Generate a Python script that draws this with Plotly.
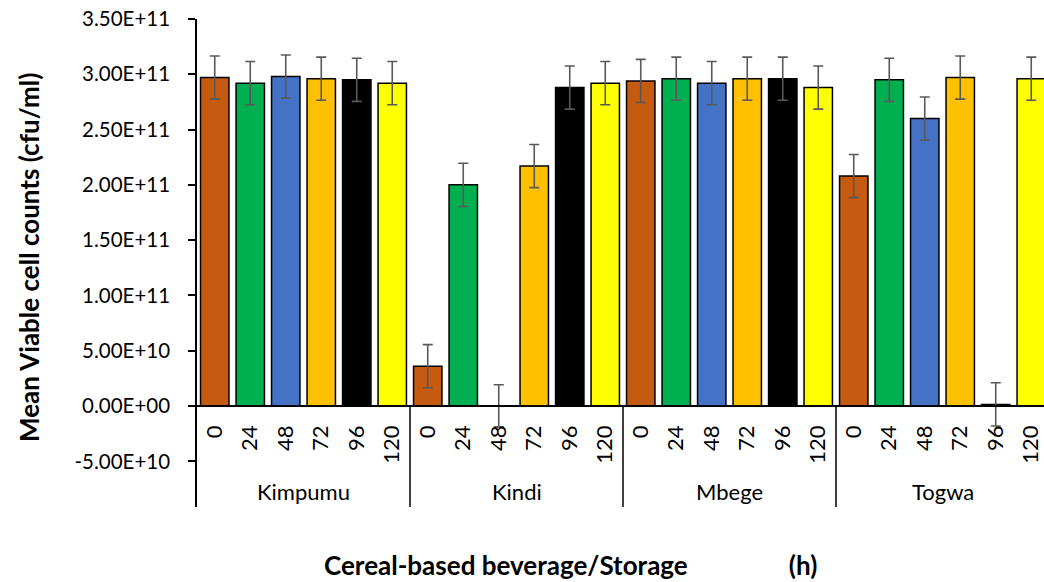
import plotly.graph_objects as go

beverages = ["Kimpumu", "Kindi", "Mbege", "Togwa"]
storage_h = ["0", "24", "48", "72", "96", "120"]
time_colors = ["#C55A11", "#00B050", "#4472C4", "#FFC000", "#000000", "#FFFF00"]

kimpumu = [2.97e11, 2.92e11, 2.98e11, 2.96e11, 2.95e11, 2.92e11]
kindi = [3.6e10, 2.0e11, 2.0e8, 2.17e11, 2.88e11, 2.92e11]
mbege = [2.94e11, 2.96e11, 2.92e11, 2.96e11, 2.96e11, 2.88e11]
togwa = [2.08e11, 2.95e11, 2.60e11, 2.97e11, 1.5e9, 2.96e11]

kimpumu_err = [1.95e10, 1.95e10, 1.95e10, 1.95e10, 1.95e10, 1.95e10]
kindi_err = [1.95e10, 1.95e10, 1.9e10, 1.95e10, 1.95e10, 1.95e10]
mbege_err = [1.95e10, 1.95e10, 1.95e10, 1.95e10, 1.95e10, 1.95e10]
togwa_err = [1.95e10, 1.95e10, 1.95e10, 1.95e10, 1.95e10, 1.95e10]

y_tick_vals = [-5e10, 0, 5e10, 1e11, 1.5e11, 2e11, 2.5e11, 3e11, 3.5e11]
y_tick_text = ["-5.00E+10", "0.00E+00", "5.00E+10", "1.00E+11", "1.50E+11",
               "2.00E+11", "2.50E+11", "3.00E+11", "3.50E+11"]

values = kimpumu + kindi + mbege + togwa
errors = kimpumu_err + kindi_err + mbege_err + togwa_err
n_t = len(storage_h)
xs = list(range(len(values)))
colors = [time_colors[i % n_t] for i in xs]
tick_text = [storage_h[i % n_t] for i in xs]

FONT = "Lato"
W, H = 1044, 582
top_px, bot_px, left_px = 19, 507, 197
y_min, y_max = -9.13e10, 3.5e11
zero_pos = (0 - y_min) / (y_max - y_min)
px_per_cat = 35.5
x_max = -0.5 + (W - left_px) / px_per_cat
ph = bot_px - top_px
pw = W - left_px

fig = go.Figure()
fig.add_trace(go.Bar(
    x=xs, y=values,
    marker=dict(color=colors, line=dict(color="#000000", width=1.5)),
    error_y=dict(type="data", array=errors, visible=True,
                 color="#595959", thickness=1.6, width=5),
    width=0.8,
    showlegend=False,
))

fig.update_layout(
    width=W, height=H,
    margin=dict(l=left_px, r=0, t=top_px, b=H - bot_px),
    plot_bgcolor="white", paper_bgcolor="white",
    font=dict(family=FONT, color="#000000"),
    xaxis=dict(
        range=[-0.5, x_max],
        tickmode="array", tickvals=xs, ticktext=tick_text,
        tickangle=-90, tickfont=dict(size=22, family=FONT),
        showgrid=False, zeroline=False,
        showline=True, linecolor="#000000", linewidth=1.5,
        ticks="", anchor="free", position=zero_pos,
        ticklabelstandoff=10,
    ),
    yaxis=dict(
        range=[y_min, y_max],
        tickmode="array", tickvals=y_tick_vals, ticktext=y_tick_text,
        tickfont=dict(size=20.5, family=FONT),
        showgrid=False, zeroline=False,
        showline=True, linecolor="#000000", linewidth=1.5,
        ticks="outside", ticklen=7, tickcolor="#000000", tickwidth=1.5,
        ticklabelstandoff=14,
    ),
)

# category group dividers
for b in [5.5, 11.5, 17.5]:
    fig.add_shape(type="line", xref="x", yref="y", x0=b, x1=b, y0=0, y1=y_min,
                  line=dict(color="#000000", width=1.5))

# group labels
for gi, name in enumerate(beverages):
    fig.add_annotation(x=gi * n_t + (n_t - 1) / 2, y=1 - (491 - top_px) / ph,
                       xref="x", yref="paper", text=name, showarrow=False,
                       font=dict(size=22, family=FONT), yanchor="middle")

fig.add_annotation(
    x=(570 - left_px) / pw, y=-(565 - bot_px) / ph,
    xref="paper", yref="paper", showarrow=False,
    text="<b>Cereal-based beverage/Storage" + "\u00a0" * 16 + "(h)</b>",
    font=dict(size=26, family=FONT), yanchor="middle", xanchor="center",
)
fig.add_annotation(
    x=-(left_px - 29) / pw, y=1 - (258 - top_px) / ph,
    xref="paper", yref="paper", showarrow=False, textangle=-90,
    text="<b>Mean Viable cell counts (cfu/ml)</b>",
    font=dict(size=26, family=FONT), yanchor="middle", xanchor="center",
)

fig.write_html("out.html", config={"displayModeBar": False},
               post_script="document.body.style.margin='0';")
